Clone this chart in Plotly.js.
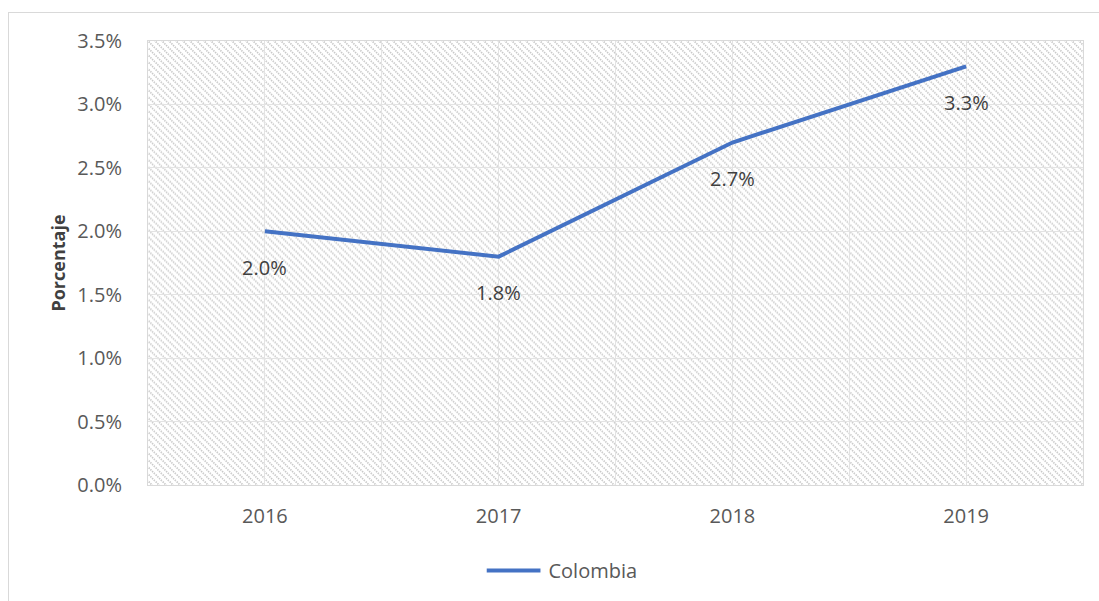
<!DOCTYPE html>
<html>
<head>
<meta charset="utf-8">
<script src="https://cdn.plot.ly/plotly-3.0.1.min.js"></script>
<style>
  html, body { margin: 0; padding: 0; background: #ffffff; }
  #wrap { position: relative; width: 1099px; height: 601px; overflow: hidden; }
  #chart { width: 1099px; height: 601px; }
  #frame { position: absolute; left: 8px; top: 12px; width: 1200px; height: 700px;
           border: 1px solid #d9d9d9; pointer-events: none; }
</style>
</head>
<body>
<div id="wrap">
  <div id="chart"></div>
  <div id="frame"></div>
</div>
<script>
// ---- data ----
const years = ["2016", "2017", "2018", "2019"];
const colombia = [2.0, 1.8, 2.7, 3.3];
const seriesName = "Colombia";
const yTicks = [0, 0.5, 1.0, 1.5, 2.0, 2.5, 3.0, 3.5];

// ---- layout constants ----
const W = 1099, H = 601;
const M = { l: 148, r: 16, t: 41, b: 115 };
const PW = W - M.l - M.r, PH = H - M.t - M.b;

const xIdx = years.map((_, i) => i);

// hatch background as svg pattern
const hatchSvg =
  '<svg xmlns="http://www.w3.org/2000/svg" width="' + PW + '" height="' + PH + '">' +
  '<defs><pattern id="h" width="7" height="7" patternUnits="userSpaceOnUse">' +
  '<path d="M-1,-1 L8,8 M-8,-1 L1,8 M6,-1 L15,8" stroke="#c8c8c8" stroke-width="1.7" stroke-dasharray="1.4,1"/>' +
  '</pattern></defs><rect width="100%" height="100%" fill="#ffffff"/>' +
  '<rect width="100%" height="100%" fill="url(#h)"/></svg>';
const hatchUrl = 'data:image/svg+xml;base64,' + btoa(hatchSvg);

const FAM = "Open Sans, Noto Sans, sans-serif";
const font = { family: FAM, size: 20, color: "#595959" };

const trace = {
  x: xIdx,
  y: colombia,
  type: "scatter",
  mode: "lines",
  name: seriesName,
  line: { color: "#4472C4", width: 4 },
  hoverinfo: "skip"
};

const annotations = xIdx.map((xi, i) => ({
  x: xi, y: colombia[i], xref: "x", yref: "y",
  text: colombia[i].toFixed(1) + "%",
  showarrow: false, yshift: -36,
  font: { family: FAM, size: 20, color: "#404040" }
}));

const layout = {
  width: W, height: H,
  margin: M,
  paper_bgcolor: "#ffffff",
  plot_bgcolor: "rgba(0,0,0,0)",
  font: font,
  showlegend: true,
  legend: {
    orientation: "h", x: 0.362, xanchor: "left", y: -0.19, yanchor: "middle",
    font: { family: FAM, size: 20, color: "#595959" },
    itemwidth: 52
  },
  xaxis: {
    type: "linear",
    range: [-0.5, 3.5],
    tickvals: xIdx,
    ticktext: years,
    showgrid: true, gridcolor: "#e3e3e3", gridwidth: 1,
    minor: { dtick: 0.5, tick0: 0.5, showgrid: true, gridcolor: "#e3e3e3", gridwidth: 1, ticks: "" },
    zeroline: false,
    showline: true, linecolor: "#d9d9d9", linewidth: 1, mirror: true,
    ticks: "",
    ticklabelstandoff: 13,
    tickfont: font,
    fixedrange: true
  },
  yaxis: {
    range: [0, 3.5],
    tickvals: yTicks,
    ticktext: yTicks.map(v => v.toFixed(1) + "%"),
    showgrid: true, gridcolor: "#e3e3e3", gridwidth: 1,
    zeroline: false,
    showline: true, linecolor: "#d9d9d9", linewidth: 1, mirror: true,
    ticks: "",
    ticklabelstandoff: 21,
    tickfont: font,
    title: { text: "<b>Porcentaje</b>", font: { family: FAM, size: 18, color: "#404040" }, standoff: 7 },
    fixedrange: true
  },
  images: [{
    source: hatchUrl, xref: "paper", yref: "paper",
    x: 0, y: 1, sizex: 1, sizey: 1, xanchor: "left", yanchor: "top",
    sizing: "stretch", layer: "below"
  }],
  annotations: annotations
};

Plotly.newPlot("chart", [trace], layout, { displayModeBar: false, staticPlot: true }).then(gd => {
  // lengthen the legend line symbol to match the reference's long legend key
  gd.querySelectorAll(".legendlines path").forEach(p => p.setAttribute("d", "M0,0h54"));
});
</script>
</body>
</html>
